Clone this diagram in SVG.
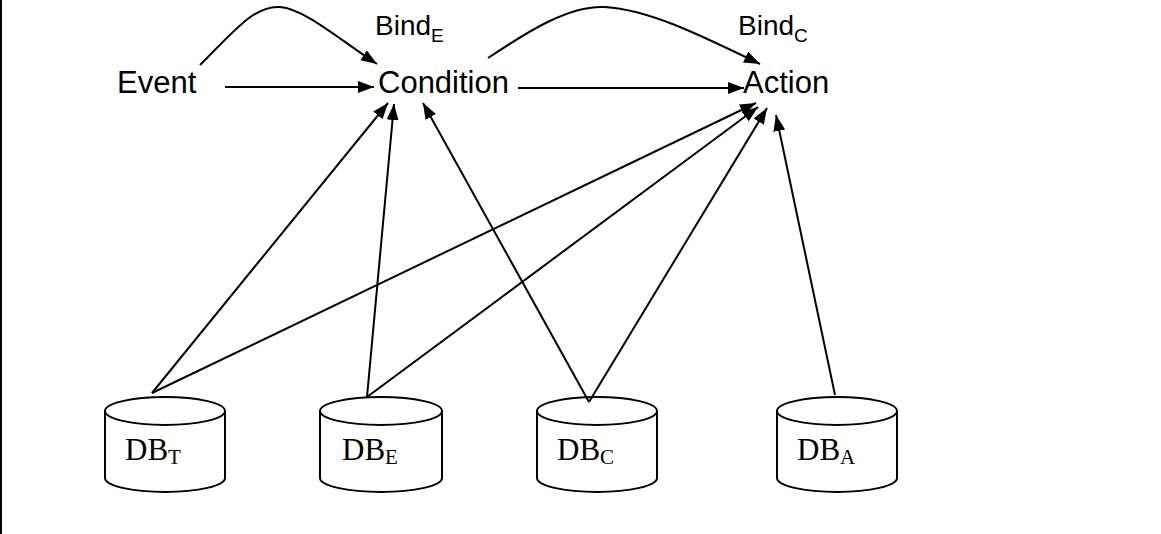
<svg xmlns="http://www.w3.org/2000/svg" width="1161" height="534" viewBox="0 0 1161 534">
<style>
.lbl{font-family:"Liberation Sans",Arial,sans-serif;font-size:31px;fill:#000}
.bind{font-family:"Liberation Sans",Arial,sans-serif;font-size:28px;fill:#000}
.sub{font-size:19px}
.db{font-family:"Liberation Serif","Times New Roman",serif;font-size:31px;fill:#000}
.dbsub{font-size:21px}
.cyl{fill:#fff;stroke:#000;stroke-width:2}
.conn path,.conn line{fill:none;stroke:#000;stroke-width:2;marker-end:url(#ah)}
</style>
<defs>
<marker id="ah" markerUnits="userSpaceOnUse" markerWidth="17" markerHeight="13" refX="16" refY="6" orient="auto">
<path d="M0,0 L16,6 L0,12 z" fill="#000"/>
</marker>
</defs>
<rect width="1161" height="534" fill="#fff"/>
<line x1="1" y1="0" x2="1" y2="534" stroke="#000" stroke-width="2"/>
<g id="event"><text class="lbl" x="117" y="93">Event</text></g>
<g id="condition"><text class="lbl" x="378" y="93">Condition</text></g>
<g id="action"><text class="lbl" x="743" y="93">Action</text></g>
<g id="bindE"><text class="bind" x="375" y="35">Bind<tspan class="sub" dy="7">E</tspan></text></g>
<g id="bindC"><text class="bind" x="738" y="35">Bind<tspan class="sub" dy="7">C</tspan></text></g>
<g id="dbT">
<path class="cyl" d="M105,411 L105,478 A60,14 0 0 0 225,478 L225,411"/>
<ellipse class="cyl" cx="165" cy="411" rx="60" ry="14"/>
<text class="db" x="125" y="460">DB<tspan class="dbsub" dy="4">T</tspan></text>
</g>
<g id="dbE">
<path class="cyl" d="M320,411 L320,478 A61,14 0 0 0 442,478 L442,411"/>
<ellipse class="cyl" cx="381" cy="411" rx="61" ry="14"/>
<text class="db" x="342" y="460">DB<tspan class="dbsub" dy="4">E</tspan></text>
</g>
<g id="dbC">
<path class="cyl" d="M537,411 L537,478 A60,14 0 0 0 657,478 L657,411"/>
<ellipse class="cyl" cx="597" cy="411" rx="60" ry="14"/>
<text class="db" x="557" y="460">DB<tspan class="dbsub" dy="4">C</tspan></text>
</g>
<g id="dbA">
<path class="cyl" d="M777,411 L777,478 A60,14 0 0 0 897,478 L897,411"/>
<ellipse class="cyl" cx="837" cy="411" rx="60" ry="14"/>
<text class="db" x="797" y="460">DB<tspan class="dbsub" dy="4">A</tspan></text>
</g>
<g id="connectors" class="conn">
<line x1="225" y1="87" x2="374" y2="87"/>
<line x1="518" y1="88" x2="744" y2="88"/>
<path d="M200,65 C235,30 255,5 280,7 C305,9 340,40 377,64"/>
<path d="M488,58 C530,30 570,5 605,7 C650,10 700,35 760,64"/>
<line x1="152" y1="393" x2="388" y2="103"/>
<line x1="152" y1="393" x2="756" y2="103"/>
<line x1="367" y1="397" x2="394" y2="104"/>
<line x1="367" y1="397" x2="758" y2="107"/>
<line x1="589" y1="402" x2="423" y2="103"/>
<line x1="589" y1="402" x2="767" y2="108"/>
<line x1="835" y1="395" x2="776" y2="115"/>
</g>
</svg>
